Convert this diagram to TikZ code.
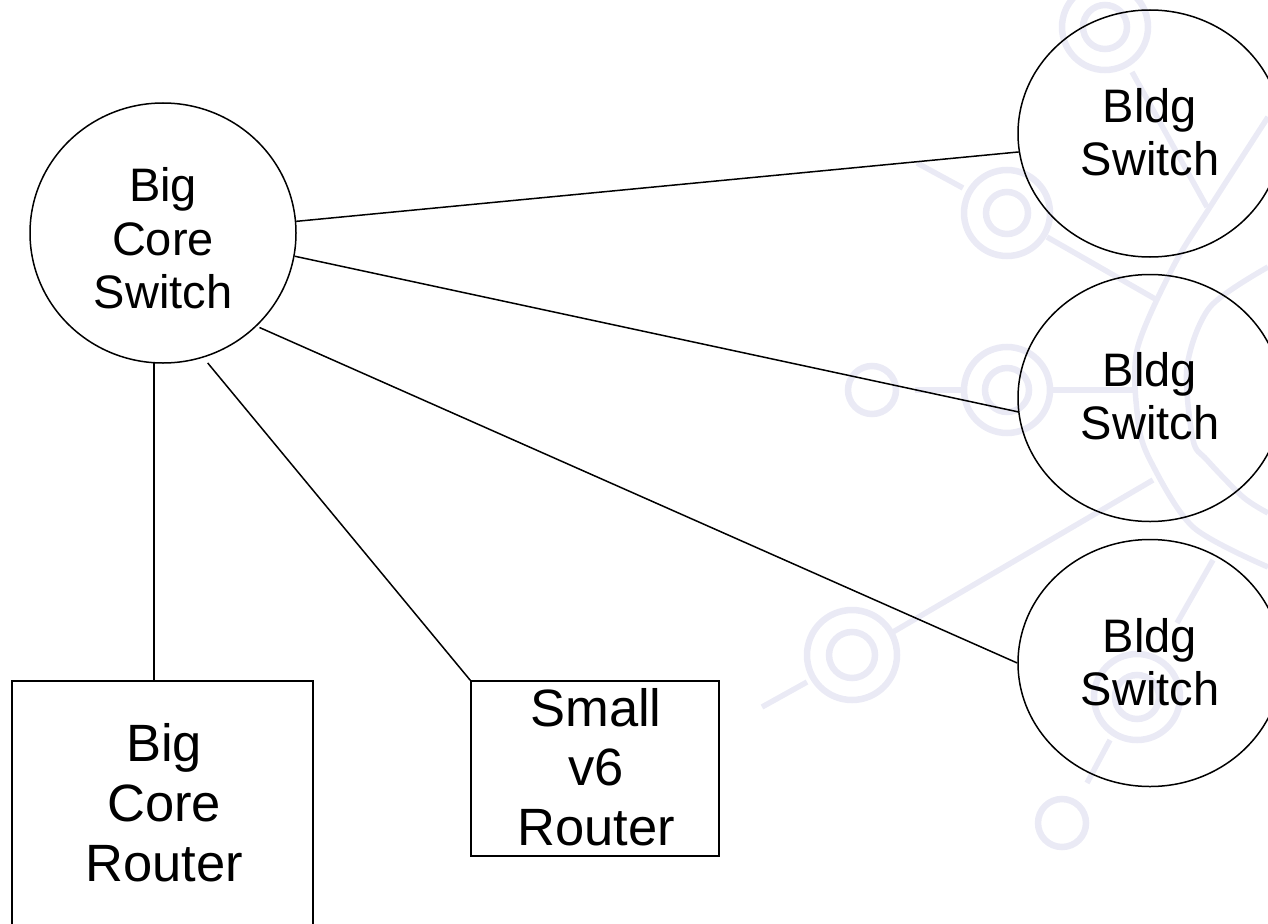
\documentclass[tikz,border=0pt]{standalone}
\usepackage{fontspec}
\setmainfont{Liberation Sans}
\usetikzlibrary{shapes.geometric}
\definecolor{wm}{HTML}{EAEAF5}
\tikzset{
  wmline/.style={draw=wm,line width=5.5pt},
  wmring/.style={draw=wm,line width=6.5pt},
  netcircle/.style={ellipse,draw=black,line width=1.5pt,inner sep=0pt},
  netbox/.style={rectangle,draw=black,line width=1.5pt,inner sep=0pt},
  circletext/.style={inner sep=0pt,align=center,font=\fontsize{47}{53.2}\selectfont},
  boxtext/.style={inner sep=0pt,align=center,font=\fontsize{52.5}{59.6}\selectfont},
  link/.style={draw=black,line width=1.5pt}
}
\begin{document}
\begin{tikzpicture}[x=1pt,y=-1pt]
\useasboundingbox (0,0) rectangle (1268,923);
% watermark
\foreach \cx/\cy/\ro/\ri in {1105/27/43/22,1007/213/43/21,1007/390/43/22,852/655/45/23,1137/697/43/22}{
  \draw[wmring] (\cx,\cy) circle[radius=\ro];
  \draw[wmring] (\cx,\cy) circle[radius=\ri];
}
\draw[wmring] (872,390) circle[radius=24];
\draw[wmring] (1062,823) circle[radius=24];
\draw[wmline] (917,163) -- (963,188);
\draw[wmline] (1047,237) -- (1157,300);
\draw[wmline] (1132,72) -- (1207,207);
\draw[wmline] (915,390) -- (963,390);
\draw[wmline] (1050,390) -- (1135,390);
\draw[wmline] (762,707) -- (807,682);
\draw[wmline] (893,632) -- (1153,480);
\draw[wmline] (1110,740) -- (1087,783);
\draw[wmline] (1213,560) -- (1177,623);
\draw[wmline] plot[smooth] coordinates {(1268,117) (1210,207) (1173,267) (1137,350) (1138,420) (1150,460) (1193,527) (1268,567)};
\draw[wmline] plot[smooth] coordinates {(1268,267) (1210,307) (1187,367) (1193,440) (1207,460) (1243,497) (1268,513)};
% nodes
\node[netcircle,minimum width=266pt,minimum height=260pt] (core) at (163,233) {};
\node[netcircle,minimum width=264pt,minimum height=247pt] (b1) at (1150,133.5) {};
\node[netcircle,minimum width=264pt,minimum height=247pt] (b2) at (1150,398) {};
\node[netcircle,minimum width=264pt,minimum height=247pt] (b3) at (1150,663) {};
\node[netbox,minimum width=301pt,minimum height=260pt] (router) at (162.5,811) {};
\node[netbox,minimum width=248pt,minimum height=175pt] (small) at (595,768.5) {};
% texts
\node[circletext] (coretext) at (163,238.3) {Big\\Core\\Switch};
\node[circletext] (b1text) at (1150,132.2) {Bldg\\Switch};
\node[circletext] (b2text) at (1150,396.5) {Bldg\\Switch};
\node[circletext] (b3text) at (1150,661.8) {Bldg\\Switch};
\node[boxtext] (routertext) at (164,802.8) {Big\\Core\\Router};
\node[boxtext] (smalltext) at (596,767) {Small\\v6\\Router};
% connectors
\draw[link] (core.-94) -- (core.-94 |- router.north);
\draw[link] (core.5) -- (b1.188);
\draw[link] (core.-10) -- (b2.186);
\draw[link] ([shift={(3,1)}]core.-45) -- (b3.180);
\draw[link] ([shift={(2,6)}]core.-71) -- (small.north west);
\end{tikzpicture}
\end{document}
